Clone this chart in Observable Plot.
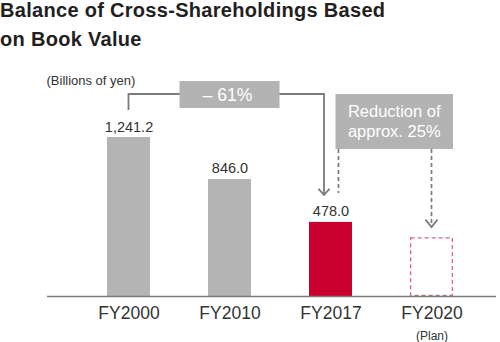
<!DOCTYPE html>
<html>
<head>
<meta charset="utf-8">
<script src="https://cdn.jsdelivr.net/npm/d3@7"></script>
<script src="https://cdn.jsdelivr.net/npm/@observablehq/plot@0.6"></script>
<style>
  html, body { margin: 0; padding: 0; background: #fff; }
  body { width: 500px; height: 342px; overflow: hidden; font-family: "Liberation Sans", Arial, sans-serif; }
  #title { height: 58px; overflow: visible; }
  #title div { position: relative; top: -4.4px; font-size: 20px; line-height: 29px; font-weight: bold; color: #231f20; letter-spacing: 0.3px; }
  #chart svg { display: block; overflow: visible; }
</style>
</head>
<body>
<div id="title"><div>Balance of Cross-Shareholdings Based<br>on Book Value</div></div>
<div id="chart"></div>
<script>
// ---- data ----
const categories = ["FY2000", "FY2010", "FY2017", "FY2020"];
const values = [1241.2, 846.0, 478.0, 358.5];
const isPlan = [false, false, false, true];
const highlight = "FY2017";
const unitLabel = "(Billions of yen)";
const planLabel = "(Plan)";
const dropNote = "– 61%";
const reductionNote = ["Reduction of", "approx. 25%"];

const data = categories.map((c, i) => ({cat: c, value: values[i], plan: isPlan[i]}));
const actual = data.filter(d => !d.plan);
const plan = data.filter(d => d.plan);
const fmt = d3.format(",.1f");

const gray = "#b4b4b4";
const red = "#c9002f";
const lineGray = "#7b7b7b";
const boxGray = "#b3b3b3";
const font = "'Liberation Sans', Arial, sans-serif";

// annotation drawn with the plot's own scales
function annotations(index, scales) {
  const x = scales.x, y = scales.y;
  const bw = x.bandwidth ? x.bandwidth() : 43;
  const cx = c => x(c) + bw / 2;
  const c1 = cx(categories[0]), c2 = cx(categories[1]), c3 = cx(categories[2]), c4 = cx(categories[3]);
  const t1 = y(values[0]), t3 = y(values[2]), t4 = y(values[3]);
  const level = 36;
  const g = d3.create("svg:g").attr("font-family", font);

  // bracket from FY2000 to FY2017 arrow
  const ax = c3 - 6.5, tip = t3 - 27;
  g.append("path")
    .attr("d", `M${c1},${t1 - 27}V${level}H${ax}V${tip}`)
    .attr("fill", "none").attr("stroke", lineGray).attr("stroke-width", 1.8);
  g.append("path")
    .attr("d", `M${ax - 5.5},${tip - 6}L${ax},${tip}L${ax + 5.5},${tip - 6}`)
    .attr("fill", "none").attr("stroke", lineGray).attr("stroke-width", 1.8);

  // -61% box
  g.append("rect").attr("x", c2 - 50).attr("y", 23).attr("width", 100).attr("height", 27).attr("fill", boxGray);
  g.append("text").attr("x", c2 - 2).attr("y", 43).attr("text-anchor", "middle")
    .attr("font-size", 17.5).attr("fill", "#fff").text(dropNote);

  // reduction box
  const bx0 = c3 + 5, bx1 = c4 + 21.5, by0 = 36, by1 = 91;
  // dashed guides
  g.append("path").attr("d", `M${c3 + 8},${by1}V${135}`)
    .attr("stroke", lineGray).attr("stroke-width", 1.7).attr("stroke-dasharray", "4,3").attr("fill", "none");
  const tip2 = t4 - 10;
  g.append("path").attr("d", `M${c4},${by1}V${tip2}`)
    .attr("stroke", lineGray).attr("stroke-width", 1.7).attr("stroke-dasharray", "4,3").attr("fill", "none");
  g.append("path").attr("d", `M${c4 - 6},${tip2 - 7.5}L${c4},${tip2}L${c4 + 6},${tip2 - 7.5}`)
    .attr("fill", "none").attr("stroke", lineGray).attr("stroke-width", 1.7);
  g.append("rect").attr("x", bx0).attr("y", by0).attr("width", bx1 - bx0).attr("height", by1 - by0).attr("fill", boxGray);
  reductionNote.forEach((t, i) => {
    g.append("text").attr("x", (bx0 + bx1) / 2).attr("y", 59.3 + i * 19.4).attr("text-anchor", "middle")
      .attr("font-size", 16.5).attr("fill", "#fff").text(t);
  });
  return g.node();
}

const chart = Plot.plot({
  width: 500,
  height: 284,
  marginLeft: 47,
  marginRight: 4,
  marginTop: 0,
  marginBottom: 46,
  style: {fontFamily: font, background: "transparent"},
  x: {type: "band", domain: categories, range: [86.7, 474.2], paddingInner: 0.575, paddingOuter: 0.2, axis: null},
  y: {type: "pow", exponent: 0.8, domain: [0, d3.max(values)], range: [238, 79], axis: null},
  marks: [
    Plot.barY(actual, {x: "cat", y: "value", fill: d => d.cat === highlight ? red : gray}),
    Plot.barY(plan, {x: "cat", y: "value", fill: "none", stroke: "#d6687c", strokeWidth: 1.3, strokeDasharray: "4,3", inset: 0.65}),
    Plot.ruleY([0], {stroke: "#7a7a7a", strokeWidth: 1.3}),
    Plot.axisX({tickSize: 0, tickPadding: 10, fontSize: 17.5, color: "#333", label: null}),
    Plot.text(actual, {x: "cat", y: "value", text: d => fmt(d.value), dy: -6, lineAnchor: "bottom", fontSize: 14.5, fill: "#333"}),
    Plot.text([planLabel], {x: [categories[3]], frameAnchor: "bottom", lineAnchor: "bottom", dy: 43.3, fontSize: 12, fill: "#333"}),
    Plot.text([unitLabel], {frameAnchor: "top-left", textAnchor: "start", lineAnchor: "bottom", dx: -1, dy: 26, fontSize: 13, fill: "#333"}),
    annotations
  ]
});
document.getElementById("chart").appendChild(chart);
</script>
</body>
</html>
